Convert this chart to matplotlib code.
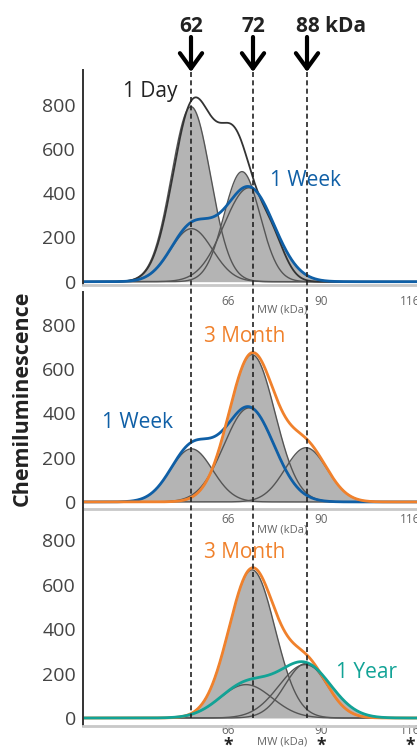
import numpy as np
import matplotlib.pyplot as plt
from matplotlib.transforms import blended_transform_factory

plt.rcParams['font.family'] = ['Open Sans', 'DejaVu Sans']

# x axis = migration along the lane (arbitrary units), MW ladder marks
marker_labels = ['62', '72', '88 kDa']
marker_pos = [108, 170, 224]
mw_tick_pos = [145, 238, 327]
mw_tick_labels = ['66', '90', '116']

# gaussian band fits: centre, height, width
day1_band_pos = [108, 159]
day1_band_h = [792, 498]
day1_band_w = [19.5, 18]

day1_total_pos = [110, 152.7, 187]
day1_total_h = [800, 600, 200]
day1_total_w = [20, 17.3, 14]

week1_pos = [108.5, 166]
week1_h = [240, 425]
week1_w = [21, 25]

month3_pos = [169, 223]
month3_h = [666, 245]
month3_w = [23, 21]

year1_pos = [163, 222]
year1_h = [150, 240]
year1_w = [26, 26]

C_BLUE = '#0f5fa6'
C_ORANGE = '#f0812c'
C_TEAL = '#12a396'
C_FILL = '#b4b4b4'
C_COMP = '#555555'

x = np.linspace(0, 334, 800)


def bands(pos, h, w):
    return np.array([hi * np.exp(-(x - p) ** 2 / (2 * wi ** 2)) for p, hi, wi in zip(pos, h, w)])


fig = plt.figure(figsize=(4.17, 7.55), dpi=100)
W, H = 417, 755


def px_axes(top, bottom):
    return fig.add_axes([83 / W, (H - bottom) / H, 334 / W, (bottom - top) / H])


ax1 = px_axes(70, 285)
ax2 = px_axes(292, 509)
ax3 = px_axes(508, 726)
axes = [ax1, ax2, ax3]

# ---- panel 1 : 1 Day vs 1 Week
c1 = np.vstack([bands(day1_band_pos, day1_band_h, day1_band_w), bands(week1_pos, week1_h, week1_w)])
ax1.fill_between(x, c1.max(axis=0), color=C_FILL, lw=0)
for c in c1:
    ax1.plot(x, c, color=C_COMP, lw=1)
ax1.plot(x, bands(day1_total_pos, day1_total_h, day1_total_w).sum(axis=0), color='#333333', lw=1.3)
ax1.plot(x, bands(week1_pos, week1_h, week1_w).sum(axis=0), color=C_BLUE, lw=2)
ax1.set_ylim(-15, 958)

# ---- panel 2 : 1 Week vs 3 Month
c2 = np.vstack([bands(week1_pos, week1_h, week1_w), bands(month3_pos, month3_h, month3_w)])
ax2.fill_between(x, c2.max(axis=0), color=C_FILL, lw=0)
for c in c2:
    ax2.plot(x, c, color=C_COMP, lw=1)
ax2.plot(x, bands(week1_pos, week1_h, week1_w).sum(axis=0), color=C_BLUE, lw=2)
ax2.plot(x, bands(month3_pos, month3_h, month3_w).sum(axis=0), color=C_ORANGE, lw=2)
ax2.set_ylim(-32, 949)

# ---- panel 3 : 3 Month vs 1 Year
c3 = np.vstack([bands(month3_pos, month3_h, month3_w), bands(year1_pos, year1_h, year1_w)])
ax3.fill_between(x, c3.max(axis=0), color=C_FILL, lw=0)
for c in c3:
    ax3.plot(x, c, color=C_COMP, lw=1)
ax3.plot(x, bands(month3_pos, month3_h, month3_w).sum(axis=0), color=C_ORANGE, lw=2)
ax3.plot(x, bands(year1_pos, year1_h, year1_w).sum(axis=0), color=C_TEAL, lw=2)
ax3.set_ylim(-36, 944)

for ax, pad in zip(axes, [7, 3, -1.5]):
    ax.patch.set_visible(False)
    ax.set_xlim(0, 334)
    ax.set_yticks([0, 200, 400, 600, 800])
    ax.set_xticks(mw_tick_pos, mw_tick_labels)
    ax.tick_params(axis='y', length=0, pad=5, labelsize=14, labelcolor='#444444')
    ax.tick_params(axis='x', length=0, pad=pad, labelsize=8.5, labelcolor='#666666')
    ax.spines['top'].set_visible(False)
    ax.spines['right'].set_visible(False)
    ax.spines['left'].set_color('#333333')
    ax.spines['left'].set_linewidth(1.4)
    ax.spines['bottom'].set_color('#c8c8c8')
    ax.spines['bottom'].set_linewidth(2)

# MW (kDa) labels
for ax, ypix in [(ax1, 310), (ax2, 530), (ax3, 742)]:
    tr = blended_transform_factory(ax.transData, fig.transFigure)
    ax.text(174, (H - ypix) / H, 'MW (kDa)', transform=tr, fontsize=8, color='#666666',
            ha='left', va='center')

# asterisks under the bottom ladder
tr3 = blended_transform_factory(ax3.transData, fig.transFigure)
for p in mw_tick_pos:
    ax3.text(p, 0, '*', transform=tr3, fontsize=12.5, fontweight='bold',
             ha='center', va='bottom', color='#222222', clip_on=False)

# dashed marker lines through all panels + arrows
trm = blended_transform_factory(ax1.transData, fig.transFigure)
for p, lab in zip(marker_pos, marker_labels):
    fig.add_artist(plt.Line2D([p, p], [(H - 72) / H, (H - 718) / H], transform=trm,
                              color='#222222', lw=1.2, ls=(0, (3, 2))))
    ax1.annotate('', xy=(p, (H - 72) / H), xytext=(p, (H - 37) / H),
                 xycoords=trm, textcoords=trm,
                 arrowprops=dict(arrowstyle='->, head_length=0.55, head_width=0.4',
                                 lw=3, color='black', mutation_scale=20,
                                 shrinkA=0, shrinkB=0))
    if lab == '88 kDa':
        ax1.annotate(lab, xy=(p, (H - 32) / H), xycoords=trm, xytext=(-11, 0),
                     textcoords='offset pixels', ha='left', va='baseline',
                     fontsize=15, fontweight='bold', color='#222222')
    else:
        ax1.text(p, (H - 32) / H, lab, transform=trm, ha='center', va='baseline',
                 fontsize=15, fontweight='bold', color='#222222')

# series labels
fig.text(150 / W, (H - 92) / H, '1 Day', fontsize=15, color='#222222', ha='center', va='center')
fig.text(305 / W, (H - 180) / H, '1 Week', fontsize=15, color=C_BLUE, ha='center', va='center')
fig.text(245 / W, (H - 337) / H, '3 Month', fontsize=15, color=C_ORANGE, ha='center', va='center')
fig.text(137 / W, (H - 422) / H, '1 Week', fontsize=15, color=C_BLUE, ha='center', va='center')
fig.text(245 / W, (H - 552) / H, '3 Month', fontsize=15, color=C_ORANGE, ha='center', va='center')
fig.text(367 / W, (H - 672) / H, '1 Year', fontsize=15, color=C_TEAL, ha='center', va='center')

fig.text(22 / W, (H - 398) / H, 'Chemiluminescence', rotation=90, fontsize=15.5,
         fontweight='bold', color='#222222', ha='center', va='center')

fig.savefig('out.png', dpi=100)
